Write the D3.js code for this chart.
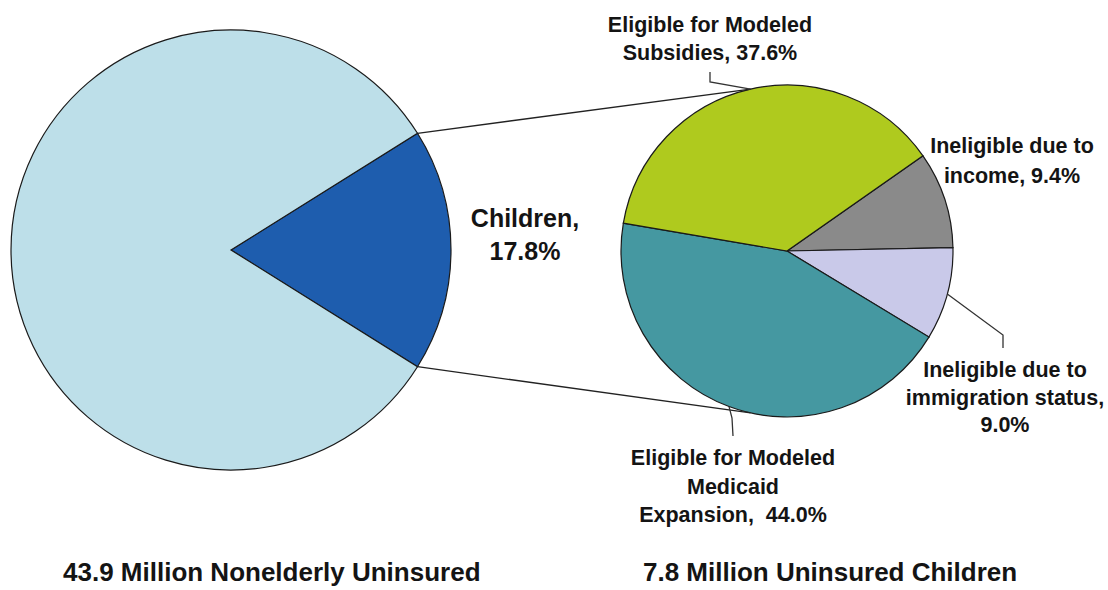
<!DOCTYPE html>
<html>
<head>
<meta charset="utf-8">
<script src="https://cdn.jsdelivr.net/npm/d3@7"></script>
<style>
  html, body { margin: 0; padding: 0; background: #ffffff; }
  svg text { font-family: Arial, "Liberation Sans", sans-serif; font-weight: bold; fill: #141414; }
</style>
</head>
<body>
<div id="chart"></div>
<script>

// data
var allCategories = ['Children', 'Other nonelderly'];
var allShares = [17.8, 82.2];
var allColors = ['#1e5dae', '#bddfe9'];

var childCategories = ['Ineligible due to income', 'Ineligible due to immigration status',
    'Eligible for Modeled Medicaid Expansion', 'Eligible for Modeled Subsidies'];
var childShares = [9.4, 9.0, 44.0, 37.6];
var childColors = ['#8a8a8a', '#c9c9e9', '#4598a1', '#afca1e'];

var childLabelLines = [
    ['Ineligible due to', 'income, 9.4%'],
    ['Ineligible due to', 'immigration status,', '9.0%'],
    ['Eligible for Modeled', 'Medicaid', 'Expansion,  44.0%'],
    ['Eligible for Modeled', 'Subsidies, 37.6%']
];
var bigLabelLines = ['Children,', '17.8%'];
var titles = ['43.9 Million Nonelderly Uninsured', '7.8 Million Uninsured Children'];

var width = 1108;
var height = 590;
var deg = Math.PI / 180;

var svg = d3.select('#chart')
    .append('svg')
        .attr('width', width)
        .attr('height', height);

/** left pie */
var leftC = [231, 250], leftR = 220;
var leftStart = Math.PI / 2 - allShares[0] / 100 * Math.PI;
var leftPie = d3.pie().sort(null)
    .startAngle(leftStart).endAngle(leftStart + 2 * Math.PI);
var leftArcs = leftPie(allShares);
var leftArc = d3.arc().innerRadius(0).outerRadius(leftR);

svg.append('g')
    .attr('transform', 'translate(' + leftC[0] + ',' + leftC[1] + ')')
    .selectAll('path')
    .data(leftArcs)
    .enter().append('path')
        .attr('d', leftArc)
        .attr('fill', function(d, i) { return allColors[i]; })
        .attr('stroke', '#1a1a1a')
        .attr('stroke-width', 1.2);

/** right pie */
var rightC = [787, 251], rightR = 166;
var rightStart = 55 * deg;
var rightPie = d3.pie().sort(null)
    .startAngle(rightStart).endAngle(rightStart + 2 * Math.PI);
var rightArcs = rightPie(childShares);
var rightArc = d3.arc().innerRadius(0).outerRadius(rightR);

svg.append('g')
    .attr('transform', 'translate(' + rightC[0] + ',' + rightC[1] + ')')
    .selectAll('path')
    .data(rightArcs)
    .enter().append('path')
        .attr('d', rightArc)
        .attr('fill', function(d, i) { return childColors[i]; })
        .attr('stroke', '#1a1a1a')
        .attr('stroke-width', 1.2);

// point on a circle, angle measured like d3.pie (0 = top, clockwise)
function onCircle(c, r, a) {
    return [c[0] + r * Math.sin(a), c[1] - r * Math.cos(a)];
}
function mid(d) { return (d.startAngle + d.endAngle) / 2; }

/** connector lines between the pies */
var kid = leftArcs[0];
var greenMid = mid(rightArcs[3]);
var p1 = onCircle(leftC, leftR, kid.startAngle);
var p2 = onCircle(rightC, rightR, greenMid);
var p3 = onCircle(leftC, leftR, kid.endAngle);
var p4 = onCircle(rightC, rightR, 3 * Math.PI - greenMid);

var line = d3.line();
svg.append('path').attr('d', line([p1, p2]))
    .attr('fill', 'none').attr('stroke', '#222').attr('stroke-width', 1.3);
svg.append('path').attr('d', line([p3, p4]))
    .attr('fill', 'none').attr('stroke', '#222').attr('stroke-width', 1.3);

/** leader lines */
var s = onCircle(rightC, rightR, mid(rightArcs[3]));
var im = onCircle(rightC, rightR, mid(rightArcs[1]));
var md = onCircle(rightC, rightR, mid(rightArcs[2]));
var leaders = [
    [s, [710, 82], [710, 72]],
    [im, [1003, 335], [1003, 348]],
    [md, [732, 418], [733, 436]]
];
svg.selectAll('.leader')
    .data(leaders)
    .enter().append('path')
        .attr('class', 'leader')
        .attr('d', d3.line().curve(d3.curveLinear))
        .attr('fill', 'none')
        .attr('stroke', '#333')
        .attr('stroke-width', 1.3);

/** labels */
function addLabel(lines, x, y, size, gap) {
    var t = svg.append('text')
        .attr('text-anchor', 'middle')
        .attr('font-size', size + 'px');
    lines.forEach(function(l, i) {
        t.append('tspan')
            .attr('x', x)
            .attr('y', y + i * gap)
            .style('white-space', 'pre')
            .text(l);
    });
}

addLabel(bigLabelLines, 525, 227, 25, 33);
addLabel(childLabelLines[3], 710, 32, 21.5, 28);
addLabel(childLabelLines[0], 1012, 153, 21.5, 30);
addLabel(childLabelLines[1], 1005, 377, 21.5, 27.5);
addLabel(childLabelLines[2], 733, 465, 21.5, 28.5);

svg.append('text')
    .attr('x', 63).attr('y', 581)
    .attr('font-size', '26px')
    .text(titles[0]);
svg.append('text')
    .attr('x', 643).attr('y', 581)
    .attr('font-size', '26px')
    .text(titles[1]);

</script>
</body>
</html>
